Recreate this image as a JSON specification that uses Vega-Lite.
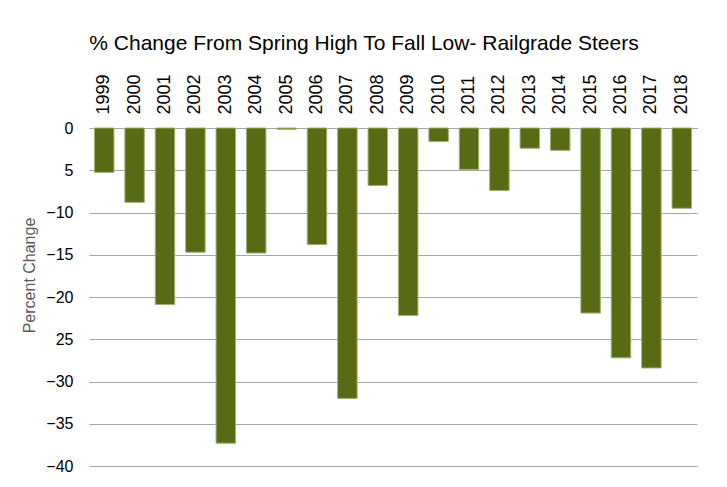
{
  "$schema": "https://vega.github.io/schema/vega-lite/v6.json",
  "autosize": "none",
  "width": 608,
  "height": 338,
  "padding": {"left": 89, "top": 128, "right": 30, "bottom": 21},
  "background": "white",
  "title": {
    "text": "% Change From Spring High To Fall Low- Railgrade Steers",
    "font": "Liberation Sans",
    "fontSize": 21,
    "fontWeight": "normal",
    "color": "#000000",
    "anchor": "middle",
    "dx": -29,
    "offset": 20
  },
  "data": {
    "values": [
      {"year": "1999", "change": -5.25},
      {"year": "2000", "change": -8.8},
      {"year": "2001", "change": -20.9},
      {"year": "2002", "change": -14.7},
      {"year": "2003", "change": -37.3},
      {"year": "2004", "change": -14.8},
      {"year": "2005", "change": -0.15},
      {"year": "2006", "change": -13.8},
      {"year": "2007", "change": -32.0},
      {"year": "2008", "change": -6.8},
      {"year": "2009", "change": -22.2},
      {"year": "2010", "change": -1.6},
      {"year": "2011", "change": -4.9},
      {"year": "2012", "change": -7.4},
      {"year": "2013", "change": -2.4},
      {"year": "2014", "change": -2.65},
      {"year": "2015", "change": -21.9},
      {"year": "2016", "change": -27.2},
      {"year": "2017", "change": -28.4},
      {"year": "2018", "change": -9.5}
    ]
  },
  "mark": {"type": "bar", "color": "#566b13", "stroke": "#a0b070", "strokeWidth": 1},
  "encoding": {
    "x": {
      "field": "year",
      "type": "nominal",
      "scale": {"paddingInner": 0.36, "paddingOuter": 0.18},
      "axis": {
        "orient": "top",
        "title": null,
        "labelAngle": -90,
        "labelFont": "Liberation Sans",
        "labelFontSize": 18,
        "labelColor": "#000000",
        "labelPadding": 14,
        "ticks": false,
        "domain": true,
        "domainColor": "#a6a6a6",
        "domainWidth": 1
      }
    },
    "y": {
      "field": "change",
      "type": "quantitative",
      "scale": {"domain": [-40, 0], "nice": false},
      "axis": {
        "values": [0, -5, -10, -15, -20, -25, -30, -35, -40],
        "labelExpr": "datum.value == -5 ? '5' : datum.value == -25 ? '25' : datum.label",
        "title": "Percent Change",
        "titleFont": "Liberation Sans",
        "titleFontSize": 16,
        "titleFontWeight": "normal",
        "titleColor": "#595959",
        "titleX": -52,
        "titleY": 147,
        "labelFont": "Liberation Sans",
        "labelFontSize": 16,
        "labelColor": "#000000",
        "labelPadding": 16,
        "ticks": false,
        "domain": false,
        "grid": true,
        "gridColor": "#a6a6a6",
        "gridWidth": 1
      }
    }
  },
  "config": {"view": {"stroke": null}}
}
